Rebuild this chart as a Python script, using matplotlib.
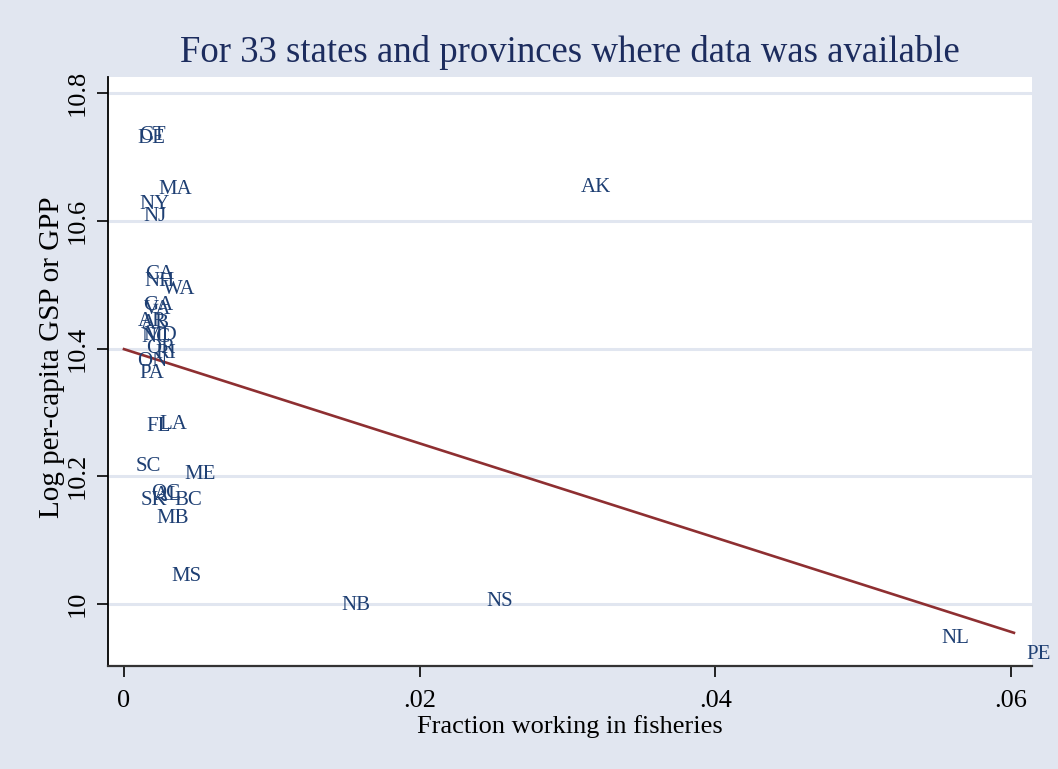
import matplotlib
matplotlib.use("Agg")
import matplotlib.pyplot as plt

# state / province codes with fraction working in fisheries and log per-capita GSP/GPP
states = ["CT", "DE", "MA", "NY", "NJ", "AK", "CA", "NH", "WA", "GA", "VA",
          "AR", "AB", "MD", "NC", "OR", "RI", "ON", "PA", "FL", "LA", "SC",
          "ME", "QC", "AL", "SK", "BC", "MB", "MS", "NB", "NS", "NL", "PE"]
fisheries = [0.0002, 0.0001, 0.0015, 0.0002, 0.0005, 0.0301, 0.0006, 0.0006,
             0.0018, 0.0005, 0.0005, 0.0001, 0.0003, 0.0005, 0.0004, 0.0007,
             0.0013, 0.0001, 0.0002, 0.0007, 0.0016, 0.0000, 0.0033, 0.0010,
             0.0012, 0.0003, 0.0026, 0.0014, 0.0024, 0.0139, 0.0237, 0.0545,
             0.0602]
log_gsp = [10.737, 10.733, 10.654, 10.629, 10.611, 10.656, 10.520, 10.510,
           10.496, 10.471, 10.466, 10.446, 10.443, 10.424, 10.421, 10.404,
           10.396, 10.384, 10.366, 10.283, 10.286, 10.219, 10.207, 10.178,
           10.175, 10.166, 10.166, 10.138, 10.047, 10.002, 10.009, 9.950,
           9.926]

# fitted line (value at min x and max x)
fit_y = [10.399, 9.955]

x_ticks = [0, 0.02, 0.04, 0.06]
x_ticklabels = ["0", ".02", ".04", ".06"]
y_ticks = [10, 10.2, 10.4, 10.6, 10.8]
y_ticklabels = ["10", "10.2", "10.4", "10.6", "10.8"]

bg = "#E1E6F0"
navy = "#1E3F73"
plt.rcParams["font.family"] = ["Liberation Serif", "DejaVu Serif"]

fig = plt.figure(figsize=(10.58, 7.69), dpi=100, facecolor=bg)
ax = fig.add_axes([0.1021, 0.1339, 0.8733, 0.766])
ax.set_facecolor("white")

for y in y_ticks:
    ax.axhline(y, color=bg, lw=2.2, zorder=0)

fit_x = [min(fisheries), max(fisheries)]
ax.plot(fit_x, fit_y, color="#8E2F31", lw=1.9, zorder=2)

for s, x, y in zip(states, fisheries, log_gsp):
    ax.annotate(s, (x, y), xytext=(8.6, -2), textcoords="offset points",
                ha="left", va="center", fontsize=15, color=navy,
                annotation_clip=False, zorder=3)

ax.set_xlim(-0.00108, 0.06142)
ax.set_ylim(9.903, 10.825)
ax.set_xticks(x_ticks)
ax.set_xticklabels(x_ticklabels)
ax.set_yticks(y_ticks)
ax.set_yticklabels(y_ticklabels, rotation=90, va="center")
ax.tick_params(axis="both", direction="out", length=8, width=1.2,
               labelsize=19, colors="black", pad=6)
ax.tick_params(axis="x", pad=9)

for side in ["top", "right"]:
    ax.spines[side].set_visible(False)
ax.spines["left"].set_linewidth(1.3)
ax.spines["bottom"].set_linewidth(1.6)
ax.spines["bottom"].set_color("#333333")

ax.set_xlabel("Fraction working in fisheries", fontsize=19)
ax.set_ylabel("Log per-capita GSP or GPP", fontsize=21)
ax.xaxis.set_label_coords(0.5, -0.084)
ax.yaxis.set_label_coords(-0.047, 0.525)
fig.text(0.5388, 0.932, "For 33 states and provinces where data was available",
         ha="center", va="center", fontsize=26.5, color="#1C2C5E")

fig.savefig("out.png", dpi=100, facecolor=bg)
